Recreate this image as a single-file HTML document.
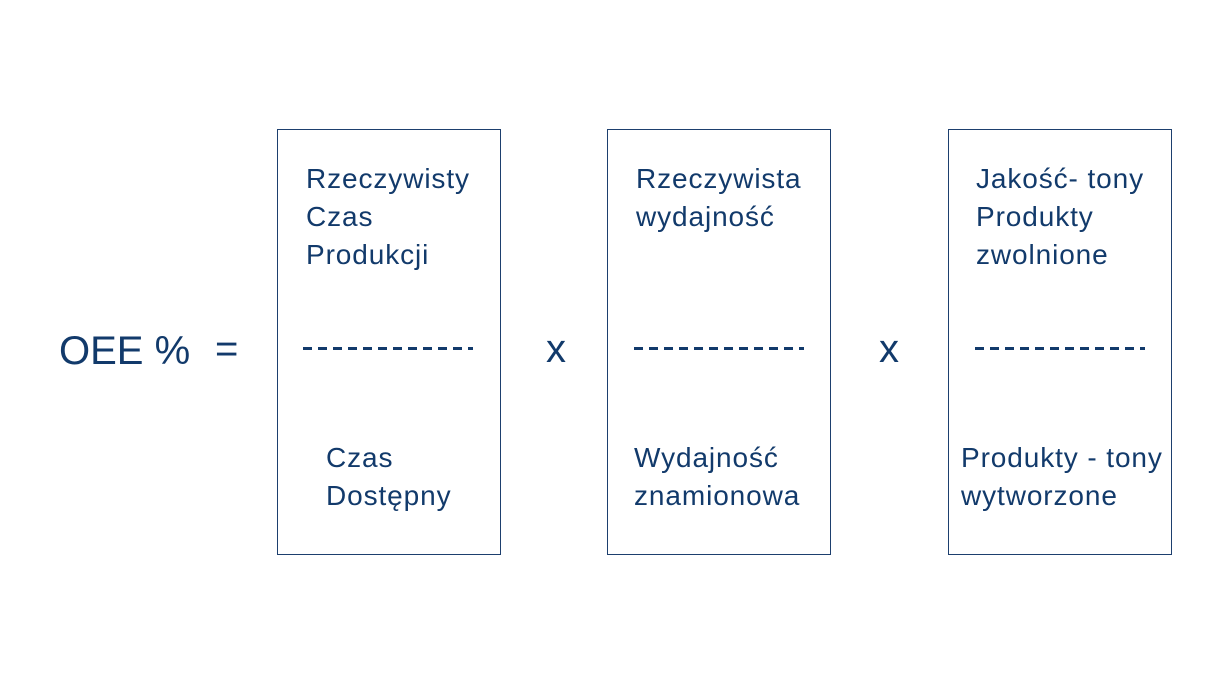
<!DOCTYPE html>
<html><head><meta charset="utf-8"><style>
body{margin:0;width:1230px;height:691px;background:#fff;position:relative;overflow:hidden;font-family:"Liberation Sans",sans-serif;color:#123a6b}
.box{position:absolute;top:129px;width:224px;height:426px;border:1.3px solid #1d3f6e;box-sizing:border-box}
.t{position:absolute;font-size:28px;line-height:38px;white-space:nowrap;letter-spacing:0.9px}
.d{position:absolute;top:347px;height:3px;width:170px;background:repeating-linear-gradient(90deg,#123a6b 0 9px,transparent 9px 15px)}
.big{position:absolute;font-size:40px;line-height:42px}
</style></head><body>
<div class="big" style="left:59px;top:330px">OEE %</div>
<div class="big" style="left:215px;top:328px">=</div>
<div class="big" style="left:546px;top:328px">x</div>
<div class="big" style="left:879px;top:328px">x</div>
<div class="box" style="left:277px"></div>
<div class="box" style="left:607px"></div>
<div class="box" style="left:948px"></div>
<div class="t" style="left:306px;top:160px">Rzeczywisty<br>Czas<br>Produkcji</div>
<div class="t" style="left:636px;top:160px">Rzeczywista<br>wydajność</div>
<div class="t" style="left:976px;top:160px">Jakość- tony<br>Produkty<br>zwolnione</div>
<div class="d" style="left:303px"></div>
<div class="d" style="left:634px"></div>
<div class="d" style="left:975px"></div>
<div class="t" style="left:326px;top:439px">Czas<br>Dostępny</div>
<div class="t" style="left:634px;top:439px">Wydajność<br>znamionowa</div>
<div class="t" style="left:961px;top:439px">Produkty - tony<br>wytworzone</div>
</body></html>
